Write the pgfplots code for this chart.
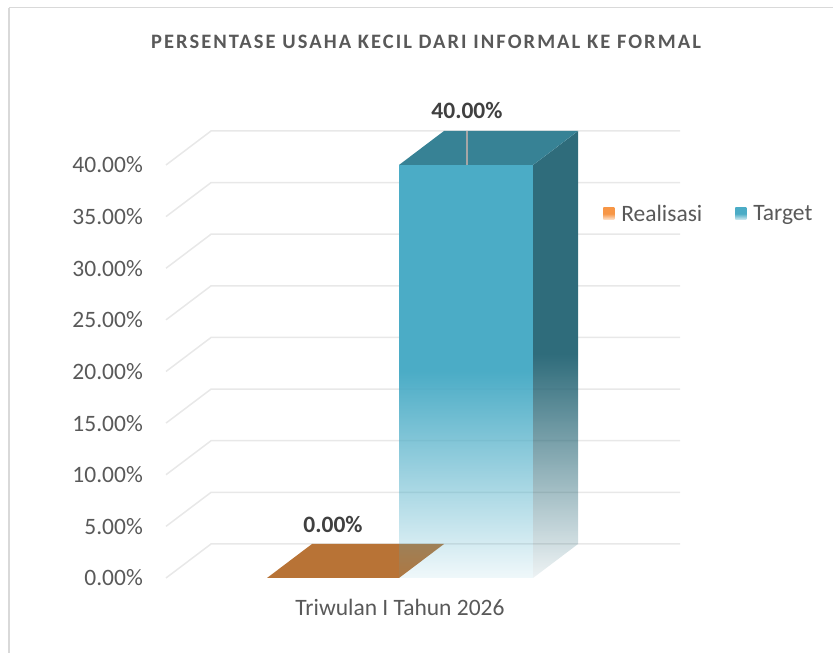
\documentclass[border=0pt]{standalone}
\usepackage{pgfplots}
\pgfplotsset{compat=1.18}
\usepackage{fontspec}
\setmainfont{Carlito}
\newfontfamily\titlefont{Carlito Bold}[LetterSpace=10]
\usetikzlibrary{fadings}
\definecolor{gridc}{HTML}{E8E8E8}
\definecolor{txt}{HTML}{595959}
\definecolor{lab}{HTML}{404040}
\definecolor{bfront}{HTML}{4BACC6}
\definecolor{btop}{HTML}{378295}
\definecolor{bside}{HTML}{2F6C7B}
\definecolor{obar}{HTML}{B87336}
\definecolor{oleg}{HTML}{F79646}
\definecolor{leader}{HTML}{A6A6A6}
\definecolor{borderc}{HTML}{D9D9D9}
\tikzfading[name=barfade, top color=transparent!0, bottom color=transparent!92, middle color=transparent!0]
\begin{document}
\begin{tikzpicture}
\path[use as bounding box] (0,0) rectangle (833pt,653pt);
\draw[borderc, line width=2pt] (9pt,-5pt) -- (9pt,645pt);
\draw[borderc, line width=1pt] (9pt,645pt) -- (840pt,645pt);
\node[anchor=base, text=txt, inner sep=0pt] at (426pt,604.5pt) {\titlefont\fontsize{20.5}{23}\selectfont PERSENTASE USAHA KECIL DARI INFORMAL KE FORMAL};
\begin{axis}[
  at={(166pt,75pt)}, anchor=south west,
  x=1pt, y=10.325pt,
  xmin=166, xmax=682, ymin=0, ymax=43.293,
  clip=false,
  axis line style={draw=none},
  major tick length=0pt,
  tick style={draw=none},
  /pgf/number format/assume math mode=true,
  ytick={0,5,10,15,20,25,30,35,40},
  yticklabel={\pgfmathprintnumber[fixed,fixed zerofill,precision=2]{\tick}\%},
  yticklabel style={font=\fontsize{23.5}{26}\selectfont, text=txt, anchor=east, inner sep=0pt, xshift=-23pt},
  xtick={400},
  xticklabels={Triwulan I Tahun 2026},
  xticklabel style={font=\fontsize{23.5}{26}\selectfont, text=txt, anchor=base, inner sep=0pt, yshift=-38pt},
  legend columns=2,
  legend style={draw=none, fill=none, inner sep=0pt, at={(0.847,0.815)}, anchor=west,
    font=\fontsize{23.5}{26}\selectfont, text=txt,
    /tikz/every odd column/.append style={column sep=5pt},
    /tikz/every even column/.append style={column sep=31pt}},
]
% back walls / gridlines
\draw[gridc, line width=1.5pt] (axis cs:166,0) -- (axis cs:211,3.293) -- (axis cs:680,3.293);
\draw[gridc, line width=1.5pt] (axis cs:166,5) -- (axis cs:211,8.293) -- (axis cs:680,8.293);
\draw[gridc, line width=1.5pt] (axis cs:166,10) -- (axis cs:211,13.293) -- (axis cs:680,13.293);
\draw[gridc, line width=1.5pt] (axis cs:166,15) -- (axis cs:211,18.293) -- (axis cs:680,18.293);
\draw[gridc, line width=1.5pt] (axis cs:166,20) -- (axis cs:211,23.293) -- (axis cs:680,23.293);
\draw[gridc, line width=1.5pt] (axis cs:166,25) -- (axis cs:211,28.293) -- (axis cs:680,28.293);
\draw[gridc, line width=1.5pt] (axis cs:166,30) -- (axis cs:211,33.293) -- (axis cs:680,33.293);
\draw[gridc, line width=1.5pt] (axis cs:166,35) -- (axis cs:211,38.293) -- (axis cs:680,38.293);
\draw[gridc, line width=1.5pt] (axis cs:166,40) -- (axis cs:211,43.293) -- (axis cs:680,43.293);
% Realisasi: 0.00 (flat top face)
\addplot[draw=none, fill=obar, forget plot] coordinates {(267,0) (399,0) (444,3.293) (312,3.293)} -- cycle;
% Target: 40.00
\addplot[draw=none, fill=bfront, path fading=barfade, forget plot] coordinates {(399,0) (533,0) (533,40) (399,40)} -- cycle;
\addplot[draw=none, fill=bside, path fading=barfade, forget plot] coordinates {(533,0) (578,3.293) (578,43.293) (533,40)} -- cycle;
\addplot[draw=none, fill=btop, forget plot] coordinates {(399,40) (444,43.293) (578,43.293) (533,40)} -- cycle;
\addplot[leader, line width=1.2pt, forget plot] coordinates {(467,40) (467,43.293)};
% data labels
\addplot[draw=none, mark=none, point meta=y, forget plot,
  nodes near coords={\pgfmathprintnumber[fixed,fixed zerofill,precision=2]{\pgfplotspointmeta}\%},
  nodes near coords style={anchor=base, inner sep=0pt, yshift=45pt, font=\fontsize{23.5}{26}\selectfont\bfseries, text=lab}]
  coordinates {(333,0)};
\addplot[draw=none, mark=none, point meta=y, forget plot,
  nodes near coords={\pgfmathprintnumber[fixed,fixed zerofill,precision=2]{\pgfplotspointmeta}\%},
  nodes near coords style={anchor=base, inner sep=0pt, yshift=46pt, font=\fontsize{23.5}{26}\selectfont\bfseries, text=lab}]
  coordinates {(467,40)};
% legend
\addlegendimage{legend image code/.code={\path[draw=none, top color=oleg, bottom color=oleg!25!white, middle color=oleg] (0pt,-6pt) rectangle (11pt,6pt);}}
\addlegendentry{Realisasi}
\addlegendimage{legend image code/.code={\path[draw=none, top color=bfront, bottom color=bfront!25!white, middle color=bfront] (0pt,-6pt) rectangle (11pt,6pt);}}
\addlegendentry{Target}
\end{axis}
\end{tikzpicture}
\end{document}
